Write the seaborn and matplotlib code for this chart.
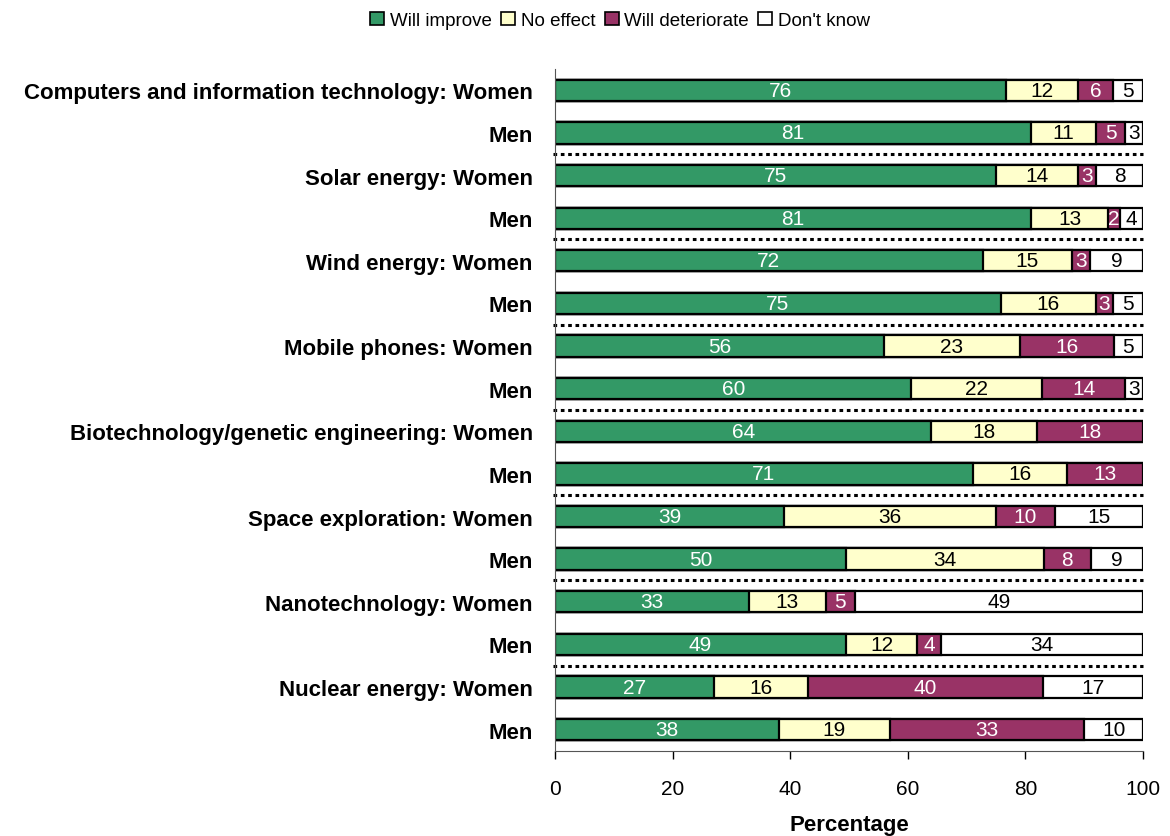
import numpy as np
import pandas as pd
import matplotlib
matplotlib.use("Agg")
import matplotlib.pyplot as plt
import seaborn as sns
from matplotlib.patches import Patch

topics = ["Computers and information technology", "Solar energy", "Wind energy",
          "Mobile phones", "Biotechnology/genetic engineering", "Space exploration",
          "Nanotechnology", "Nuclear energy"]
series = ["Will improve", "No effect", "Will deteriorate", "Don't know"]

will_improve = [76, 81, 75, 81, 72, 75, 56, 60, 64, 71, 39, 50, 33, 49, 27, 38]
no_effect = [12, 11, 14, 13, 15, 16, 23, 22, 18, 16, 36, 34, 13, 12, 16, 19]
will_deteriorate = [6, 5, 3, 2, 3, 3, 16, 14, 18, 13, 10, 8, 5, 4, 40, 33]
dont_know = [5, 3, 8, 4, 9, 5, 5, 3, 0, 0, 15, 9, 49, 34, 17, 10]

colors = ["#339966", "#FFFFCC", "#993366", "#FFFFFF"]
text_colors = ["white", "black", "white", "black"]

rows = []
labels = []
for t in topics:
    rows += [t + ": Women", t + ": Men"]
    labels += [t + ": Women", "Men"]

df = pd.DataFrame({"row": rows, series[0]: will_improve, series[1]: no_effect,
                   series[2]: will_deteriorate, series[3]: dont_know})
vals = df[series]
pct = vals.div(vals.sum(axis=1), axis=0) * 100
cum = pct.cumsum(axis=1)

sns.set_style("white")
plt.rcParams['font.family'] = ['Liberation Sans', 'DejaVu Sans']
plt.rcParams['text.color'] = 'black'
plt.rcParams['axes.labelcolor'] = 'black'
plt.rcParams['xtick.color'] = 'black'
plt.rcParams['ytick.color'] = 'black'

fig = plt.figure(figsize=(11.7, 8.37), dpi=100)
ax = fig.add_axes([0.4744, 0.1016, 0.5026, 0.8148])

# stacked bars: draw cumulative totals from the right-most layer back
for i in range(len(series) - 1, -1, -1):
    sns.barplot(x=cum[series[i]], y=df["row"], order=rows, orient="h",
                color=colors[i], edgecolor="black", linewidth=1.6,
                width=0.5, saturation=1, ax=ax)

# value labels
for i, s in enumerate(series):
    for j in range(len(rows)):
        v = vals[s].iloc[j]
        if v == 0:
            continue
        x = cum[s].iloc[j] - pct[s].iloc[j] / 2
        ax.text(x, j, str(v), ha="center", va="center", fontsize=15,
                color=text_colors[i])

# dotted separators between topics
for k in range(1, len(topics)):
    ax.plot([-0.4, 100], [2 * k - 0.5, 2 * k - 0.5], color="black",
            linestyle=(0, (1.2, 1.2)), linewidth=2.2, clip_on=False)

ax.set_xlim(0, 100)
ax.set_ylim(len(rows) - 0.5, -0.5)
ax.set_xticks([0, 20, 40, 60, 80, 100])
ax.tick_params(axis="x", direction="out", length=6, width=1, labelsize=15,
               pad=14, bottom=True)
ax.tick_params(axis="y", length=0, pad=16)
ax.set_yticks(range(len(rows)))
ax.set_yticklabels(labels, fontsize=16, fontweight="bold")
ax.set_ylabel("")
ax.set_xlabel("Percentage", fontsize=16, fontweight="bold", labelpad=12)
for sp in ["top", "right"]:
    ax.spines[sp].set_visible(False)
ax.spines["left"].set_color("#555555")
ax.spines["bottom"].set_color("#555555")

handles = [Patch(facecolor=c, edgecolor="black", linewidth=1.2) for c in colors]
fig.legend(handles, series, loc="upper center", bbox_to_anchor=(0.53, 1.005),
           ncol=4, frameon=False, fontsize=13.5, handlelength=0.75,
           handleheight=0.75, handletextpad=0.3, columnspacing=0.5)

fig.savefig("out.png", dpi=100)
